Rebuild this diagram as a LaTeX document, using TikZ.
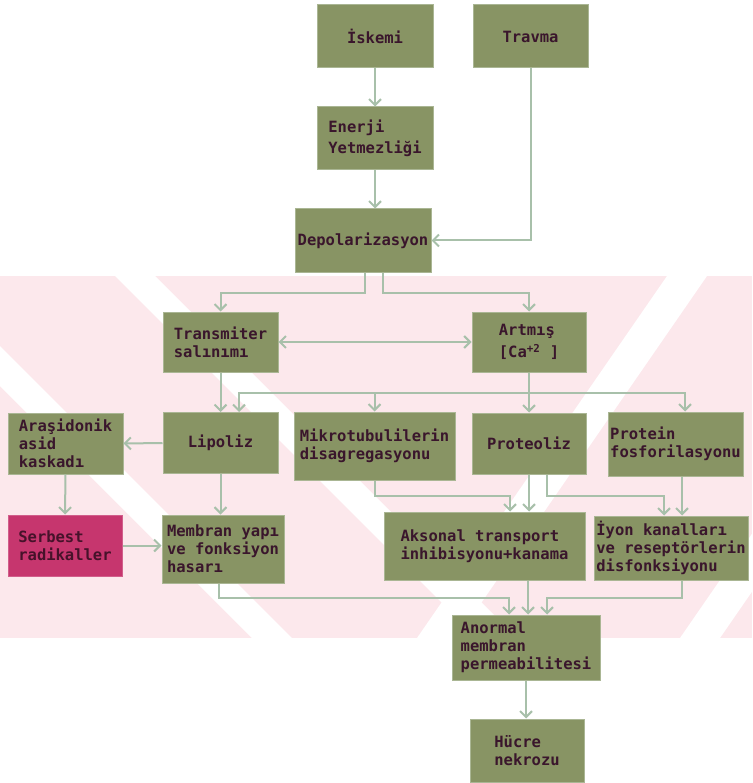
\documentclass[tikz,border=0pt]{standalone}
\usepackage{fontspec}
\usetikzlibrary{arrows.meta}
\newfontfamily\boxmono{DejaVu Sans Mono}

\definecolor{boxgreen}{RGB}{136,148,100}
\definecolor{boxrim}{RGB}{170,182,148}
\definecolor{boxtext}{RGB}{58,22,44}
\definecolor{radred}{RGB}{198,54,110}
\definecolor{arrowc}{RGB}{168,192,170}
\definecolor{wmpink}{RGB}{252,232,236}

\tikzset{
  box/.style={draw=boxrim, line width=1pt, fill=boxgreen, text=boxtext, align=left,
    inner sep=1pt, font=\boxmono\bfseries\fontsize{15.5}{18}\selectfont},
  redbox/.style={box, fill=radred, draw=radred!80!white, text={rgb,255:red,70;green,18;blue,42}},
  arr/.style={draw=arrowc, line width=2pt, -{Straight Barb[length=6pt,width=12pt,line width=2pt]}},
  arrboth/.style={arr, {Straight Barb[length=6pt,width=12pt,line width=2pt]}-{Straight Barb[length=6pt,width=12pt,line width=2pt]}}
}

\begin{document}
\begin{tikzpicture}[x=1pt,y=-1pt]
\useasboundingbox (0,0) rectangle (752,783);

% watermark band
\begin{scope}
\clip (0,276) rectangle (752,638);
\fill[wmpink] (0,276) rectangle (752,638);
\fill[white] (115,276) -- (155,276) -- (517,638) -- (477,638) -- cycle;
\fill[white] (-110,276) -- (-70,276) -- (292,638) -- (252,638) -- cycle;
\fill[white] (667,276) -- (707,276) -- (457,638) -- (417,638) -- cycle;
\fill[white] (930,276) -- (970,276) -- (720,638) -- (680,638) -- cycle;
\end{scope}

\node[box, minimum width=116, minimum height=63] (iskemi) at (375,36.5) {İskemi};
\node[box, minimum width=115, minimum height=63] (travma) at (530.5,36.5) {Travma};
\node[box, minimum width=116, minimum height=63, font=\boxmono\bfseries\fontsize{15.5}{21}\selectfont] (enerji) at (375,138.5) {Enerji\\Yetmezliği};
\node[box, minimum width=136, minimum height=63] (depol) at (363,240.5) {Depolarizasyon};

\node[box, minimum width=115, minimum height=60] (transmiter) at (220.5,342) {Transmiter\\salınımı};
\node[box, minimum width=114, minimum height=60, font=\boxmono\bfseries\fontsize{15.5}{22}\selectfont] (artmis) at (529,342) {Artmış\\{}[Ca\textsuperscript{+2} ]};

\node[box, minimum width=115, minimum height=61] (arasidonik) at (65.5,443.5) {Araşidonik\\asid\\kaskadı};
\node[box, minimum width=115, minimum height=61] (lipoliz) at (220.5,443) {Lipoliz};
\node[box, minimum width=161, minimum height=68] (mikro) at (374.5,446) {Mikrotubulilerin\\disagregasyonu};
\node[box, minimum width=114, minimum height=61] (proteoliz) at (529,443.5) {Proteoliz};
\node[box, minimum width=135, minimum height=64] (protein) at (675.5,444) {Protein\\fosforilasyonu};

\node[redbox, minimum width=114, minimum height=61] (serbest) at (65,545.5) {Serbest\\radikaller};
\node[box, minimum width=122, minimum height=68] (membran) at (223,549) {Membran yapı\\ve fonksiyon\\hasarı};
\node[box, minimum width=201, minimum height=68] (aksonal) at (484.5,546) {Aksonal transport\\inhibisyonu+kanama};
\node[box, minimum width=154, minimum height=64] (iyon) at (671,548) {İyon kanalları\\ve reseptörlerin\\disfonksiyonu};

\node[box, minimum width=148, minimum height=65] (anormal) at (526,647.5) {Anormal\\membran\\permeabilitesi};
\node[box, minimum width=114, minimum height=63] (hucre) at (527,750.5) {Hücre\\nekrozu};

\coordinate (cabus) at (529,393);

\draw[arr] (iskemi.south) -- (enerji.north);
\draw[arr] (enerji.south) -- (enerji.south |- depol.north);
\draw[arr] (travma.south) |- (depol.east);
\draw[arr] ([xshift=2pt]depol.south) -- ++(0,20) -| (transmiter.north);
\draw[arr] ([xshift=20pt]depol.south) -- ++(0,20) -| (artmis.north);
\draw[arrboth] (transmiter.east) -- (artmis.west);

\draw[arr] (transmiter.south) -- (lipoliz.north);
\draw[arr] (artmis.south) -- (proteoliz.north);
\draw[arr] (cabus) -| ([xshift=18.5pt]lipoliz.north);
\draw[arr] (cabus) -| (mikro.north);
\draw[arr] (cabus) -| ([xshift=9.5pt]protein.north);

\draw[arr] (lipoliz.west) -- (arasidonik.east);
\draw[arr] (arasidonik.south) -- (serbest.north);
\draw[arr] (serbest.east) -- (serbest.east -| membran.west);
\draw[arr] (lipoliz.south) -- (lipoliz.south |- membran.north);

\draw[arr] (mikro.south) -- ++(0,15) -| ([xshift=25.5pt]aksonal.north);
\draw[arr] (proteoliz.south) -- (proteoliz.south |- aksonal.north);
\draw[arr] ([xshift=18pt]proteoliz.south) -- ++(0,21) -| ([xshift=-7pt]iyon.north);
\draw[arr] ([xshift=6.5pt]protein.south) -- ([xshift=6.5pt]protein.south |- iyon.north);

\draw[arr] ([xshift=-4pt]membran.south) -- ++(0,14) -| ([xshift=-17pt]anormal.north);
\draw[arr] ([xshift=43.5pt]aksonal.south) -- ([xshift=43.5pt]aksonal.south |- anormal.north);
\draw[arr] ([xshift=11pt]iyon.south) -- ++(0,17) -| ([xshift=21pt]anormal.north);
\draw[arr] (anormal.south) -- (anormal.south |- hucre.north);
\end{tikzpicture}
\end{document}
